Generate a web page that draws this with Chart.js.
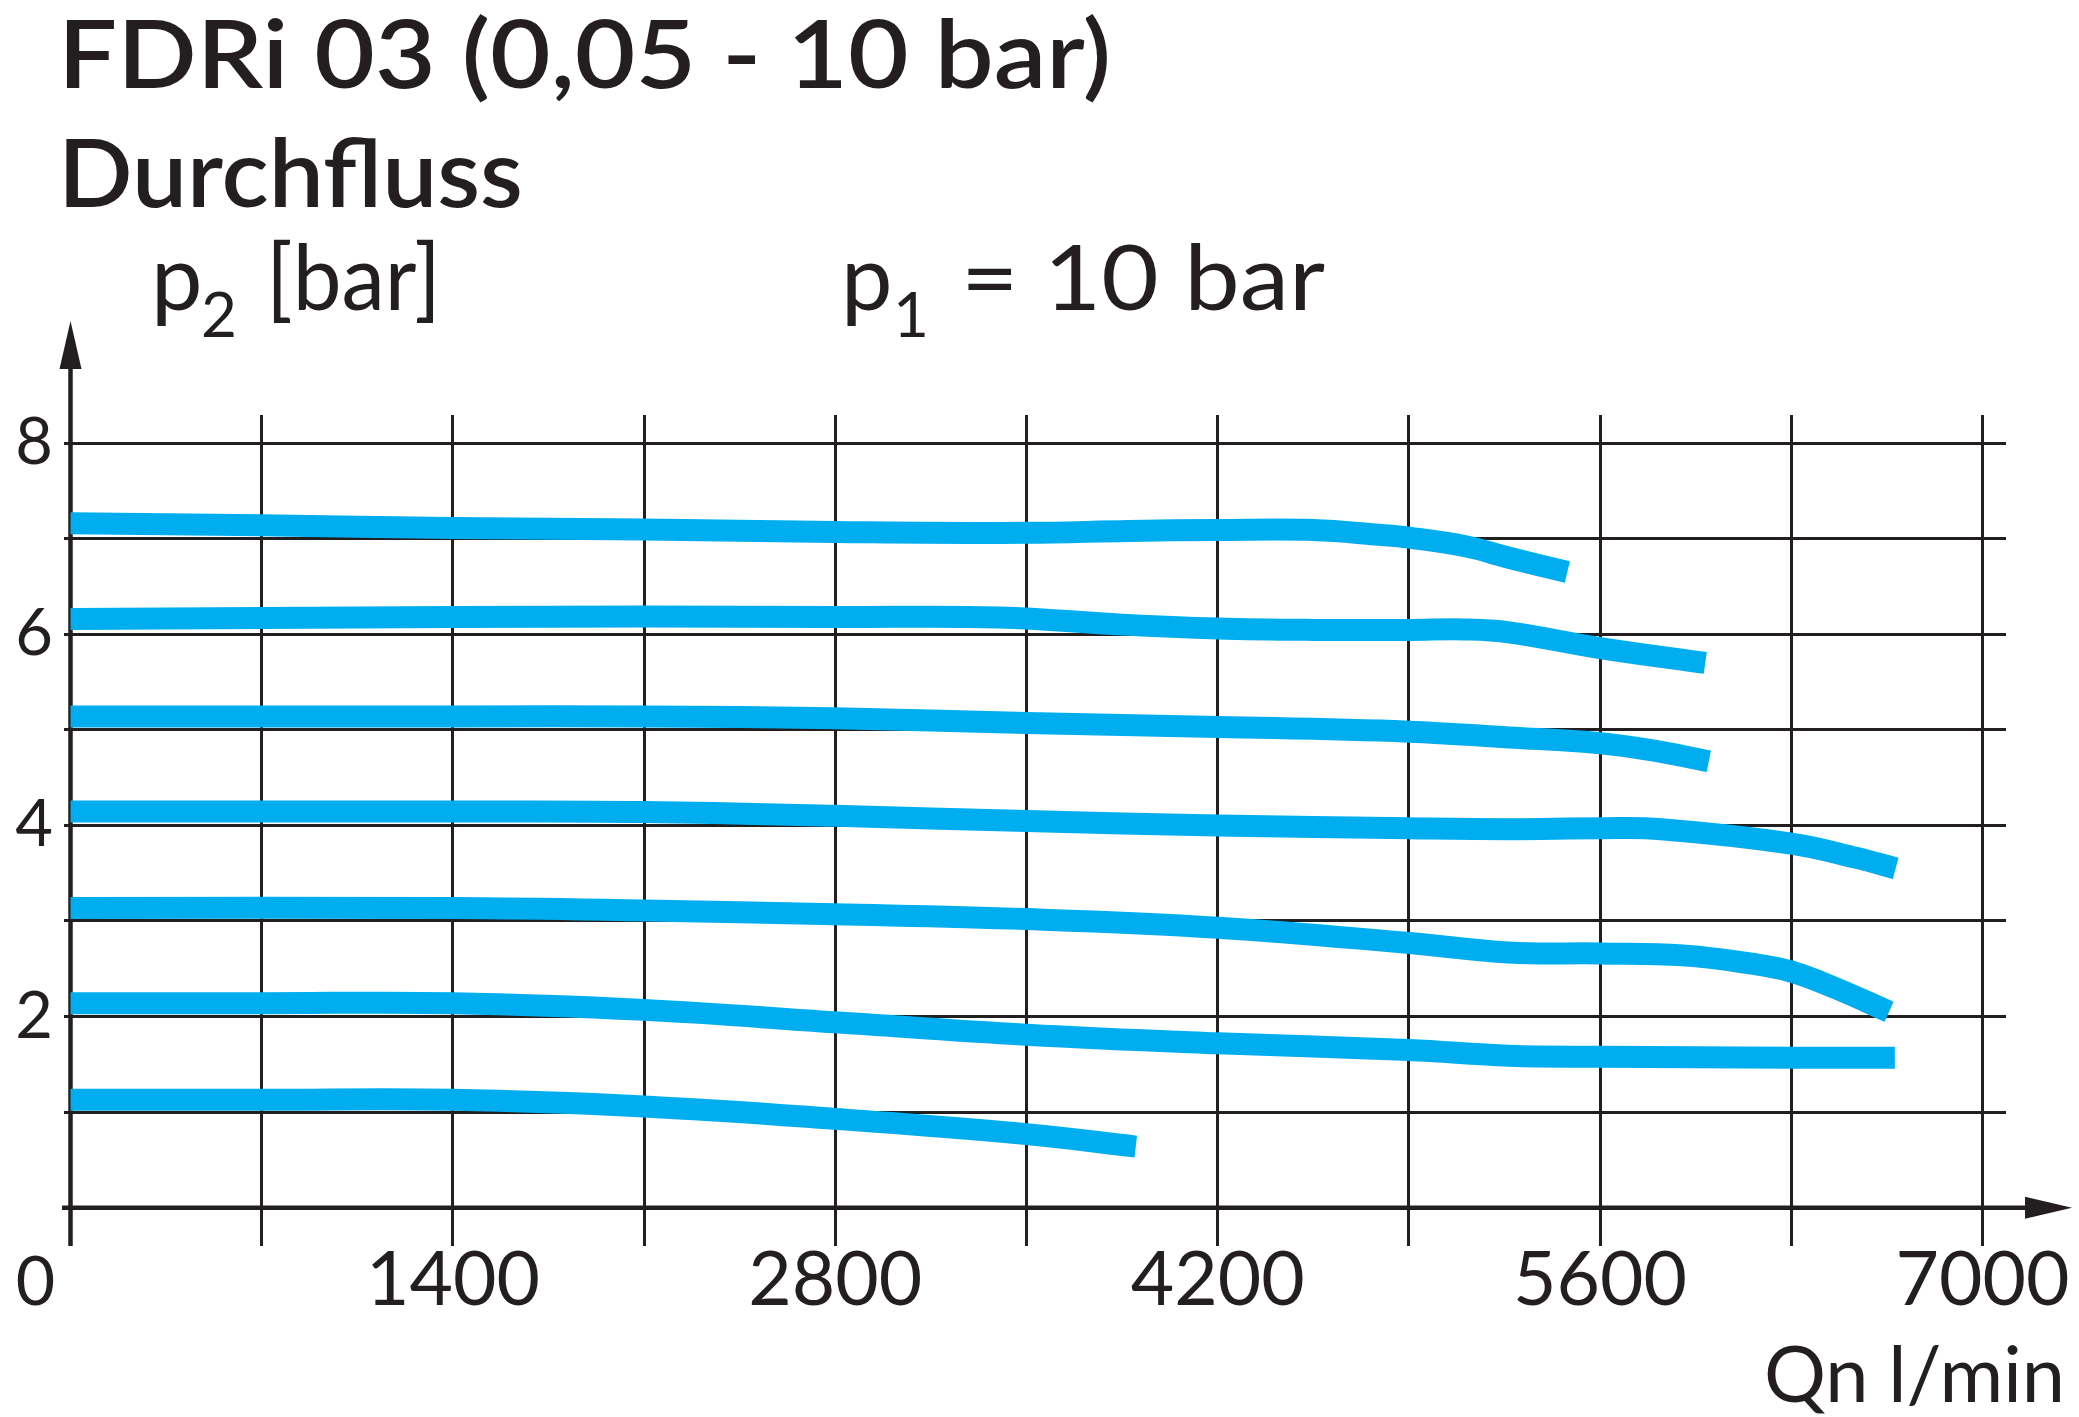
<!DOCTYPE html>
<html>
<head>
<meta charset="utf-8">
<script src="https://cdn.jsdelivr.net/npm/chart.js@4.4.1/dist/chart.umd.min.js"></script>
<style>
  html, body { margin: 0; padding: 0; background: #fff; overflow: hidden; }
  #wrap { width: 2079px; height: 1417px; position: relative; }
</style>
</head>
<body>
<div id="wrap"><canvas id="chart"></canvas></div>
<script>
// Qn in l/min, p2 in bar (p1 = 10 bar)
const q7 = [0, 700, 1400, 2100, 2800, 3500, 3875, 4200, 4550, 4790, 4900, 5107, 5266, 5480];
const p7 = [7.16, 7.14, 7.11, 7.095, 7.07, 7.06, 7.08, 7.09, 7.09, 7.04, 7.01, 6.92, 6.80, 6.65];

const q6 = [0, 700, 1400, 2100, 2800, 3400, 3850, 4200, 4550, 4900, 5107, 5266, 5600, 5985];
const p6 = [6.16, 6.17, 6.18, 6.185, 6.18, 6.175, 6.10, 6.06, 6.045, 6.045, 6.05, 6.02, 5.855, 5.70];

const q5 = [0, 1400, 2100, 2800, 3500, 4200, 4900, 5266, 5600, 5823, 5998];
const p5 = [5.14, 5.14, 5.14, 5.12, 5.07, 5.03, 4.98, 4.92, 4.86, 4.77, 4.67];

const q4 = [0, 1400, 2100, 2800, 3500, 4200, 4900, 5266, 5600, 5823, 6300, 6539, 6682];
const p4 = [4.145, 4.145, 4.14, 4.10, 4.045, 4.0, 3.97, 3.96, 3.97, 3.96, 3.81, 3.66, 3.55];

const q3 = [0, 1400, 2100, 2800, 3500, 4200, 4900, 5266, 5600, 5902, 6141, 6300, 6459, 6658];
const p3 = [3.136, 3.136, 3.11, 3.07, 3.02, 2.93, 2.77, 2.67, 2.66, 2.64, 2.56, 2.47, 2.30, 2.05];

const q2 = [0, 700, 1400, 2100, 2800, 3500, 4200, 4900, 5266, 5600, 6300, 6679];
const p2 = [2.14, 2.14, 2.14, 2.07, 1.94, 1.81, 1.72, 1.65, 1.59, 1.58, 1.57, 1.57];

const q1 = [0, 700, 1400, 2100, 2800, 3500, 3900];
const p1 = [1.13, 1.13, 1.13, 1.06, 0.93, 0.77, 0.64];

const xGrid = [0, 700, 1400, 2100, 2800, 3500, 4200, 4900, 5600, 6300, 7000];
const xTickLabels = [1400, 2800, 4200, 5600, 7000];
const yGrid = [0, 1, 2, 3, 4, 5, 6, 7, 8];
const yTickLabels = [2, 4, 6, 8];

const INK = '#231f20';
const BLUE = '#00adef';
const FONT = 'Lato, "Open Sans", "DejaVu Sans", sans-serif';

const toPoints = (qs, ps) => qs.map((q, i) => ({ x: q, y: ps[i] }));
const curves = [[q7, p7], [q6, p6], [q5, p5], [q4, p4], [q3, p3], [q2, p2], [q1, p1]];

// draw text squeezed/stretched to a given width, baseline aligned
function fitText(ctx, text, x, y, width, font, align) {
    ctx.save();
    ctx.font = font;
    ctx.textBaseline = 'alphabetic';
    ctx.textAlign = 'left';
    const w = ctx.measureText(text).width;
    const k = width ? width / w : 1;
    const left = align === 'right' ? x - (width || w) : align === 'center' ? x - (width || w) / 2 : x;
    ctx.translate(left, y);
    ctx.scale(k, 1);
    ctx.fillText(text, 0, 0);
    ctx.restore();
}

const axesPlugin = {
    id: 'axes',
    beforeDatasetsDraw(chart) {
        const { ctx, chartArea, scales } = chart;
        const x0 = scales.x.getPixelForValue(0);
        const y0 = scales.y.getPixelForValue(0);
        ctx.save();
        ctx.strokeStyle = INK;
        ctx.fillStyle = INK;
        ctx.lineWidth = 4.5;
        // y axis with arrow
        ctx.beginPath();
        ctx.moveTo(x0, chartArea.bottom);
        ctx.lineTo(x0, chartArea.top - 48);
        ctx.stroke();
        ctx.beginPath();
        ctx.moveTo(x0, chartArea.top - 94);
        ctx.lineTo(x0 - 11, chartArea.top - 46);
        ctx.lineTo(x0 + 11, chartArea.top - 46);
        ctx.closePath();
        ctx.fill();
        // x axis with arrow
        ctx.beginPath();
        ctx.moveTo(chartArea.left - 2, y0);
        ctx.lineTo(chartArea.right + 22, y0);
        ctx.stroke();
        ctx.beginPath();
        ctx.moveTo(chartArea.right + 66, y0);
        ctx.lineTo(chartArea.right + 19, y0 - 11);
        ctx.lineTo(chartArea.right + 19, y0 + 11);
        ctx.closePath();
        ctx.fill();
        ctx.restore();
    },
    afterDraw(chart) {
        const { ctx } = chart;
        ctx.save();
        ctx.fillStyle = INK;
        const head = '600 95px ' + FONT;
        fitText(ctx, 'FDRi 03 (0,05 - 10 bar)', 58, 88, 1053, head);
        fitText(ctx, 'Durchfluss', 58, 207, 465, head);

        const lab = '400 92px ' + FONT;
        const sub = '400 62px ' + FONT;
        fitText(ctx, 'p', 151, 310, 0, lab);
        fitText(ctx, '2', 201, 337, 0, sub);
        fitText(ctx, '[bar]', 266, 310, 175, lab);

        fitText(ctx, 'p', 841, 310, 0, lab);
        fitText(ctx, '1', 893, 337, 0, sub);
        fitText(ctx, '= 10 bar', 961, 310, 364, lab);

        fitText(ctx, 'Qn l/min', 2065, 1402, 301, '400 78px ' + FONT, 'right');
        fitText(ctx, '0', 35.5, 1305, 0, '400 68px ' + FONT, 'center');
        ctx.restore();
    }
};

new Chart(document.getElementById('chart'), {
    type: 'line',
    data: {
        datasets: curves.map(([qs, ps]) => ({
            data: toPoints(qs, ps),
            borderColor: BLUE,
            borderWidth: 22,
            borderCapStyle: 'butt',
            borderJoinStyle: 'round',
            tension: 0.4,
            pointRadius: 0,
            fill: false,
        }))
    },
    options: {
        responsive: true,
        maintainAspectRatio: false,
        animation: false,
        layout: { padding: { top: 415, right: 73, left: 0, bottom: 0 } },
        plugins: {
            legend: { display: false },
            tooltip: { enabled: false }
        },
        scales: {
            x: {
                type: 'linear',
                min: -23.8,
                max: 7086,
                afterFit: (s) => { s.height = 171; },
                afterBuildTicks: (s) => { s.ticks = xGrid.map(v => ({ value: v })); },
                ticks: {
                    autoSkip: false,
                    maxRotation: 0,
                    padding: -3,
                    color: INK,
                    font: { family: FONT, size: 75, lineHeight: 1 },
                    callback: (v) => xTickLabels.includes(v) ? String(v) : ''
                },
                grid: { color: INK, lineWidth: 3, drawTicks: false },
                border: { display: false }
            },
            y: {
                type: 'linear',
                min: -0.40,
                max: 8.293,
                afterFit: (s) => { s.width = 64; },
                afterBuildTicks: (s) => { s.ticks = yGrid.map(v => ({ value: v })); },
                ticks: {
                    autoSkip: false,
                    padding: 11,
                    color: INK,
                    font: { family: FONT, size: 65, lineHeight: 1 },
                    callback: (v) => yTickLabels.includes(v) ? String(v) : ''
                },
                grid: { color: INK, lineWidth: 3, drawTicks: false },
                border: { display: false }
            }
        }
    },
    plugins: [axesPlugin]
});
</script>
</body>
</html>
